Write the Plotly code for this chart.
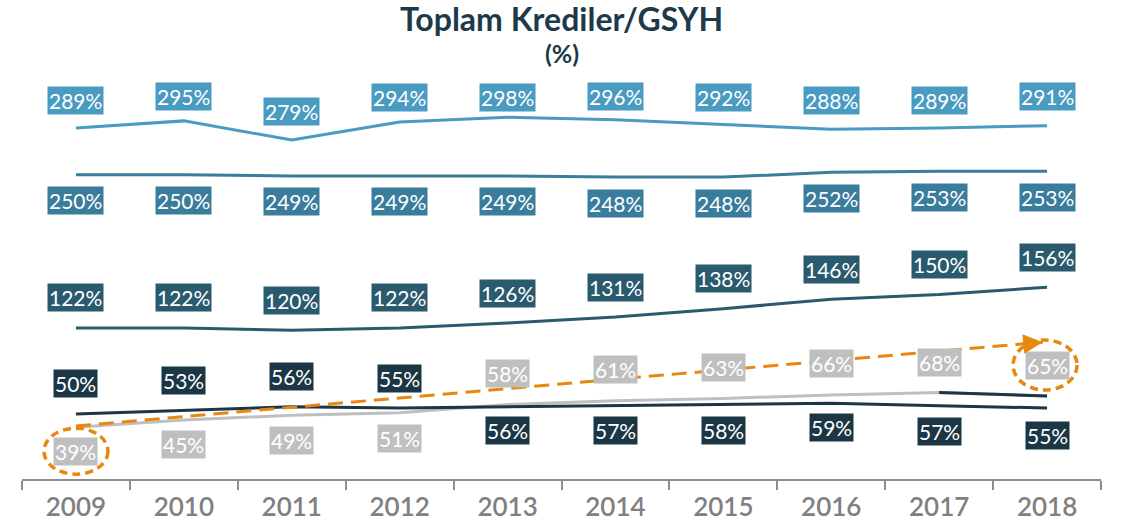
import plotly.graph_objects as go

years = ["2009", "2010", "2011", "2012", "2013", "2014", "2015", "2016", "2017", "2018"]
series_a = [289, 295, 279, 294, 298, 296, 292, 288, 289, 291]
series_b = [250, 250, 249, 249, 249, 248, 248, 252, 253, 253]
series_c = [122, 122, 120, 122, 126, 131, 138, 146, 150, 156]
series_d = [50, 53, 56, 55, 56, 57, 58, 59, 57, 55]
series_e = [39, 45, 49, 51, 58, 61, 63, 66, 68, 65]

# trend arrow endpoints (category index, value)
arrow_start = (0, 40)
arrow_end = (8.96, 110)

colors = {
    "a": "#4a9bc1",
    "b": "#3a7c9b",
    "c": "#2a5a6e",
    "d": "#1b3645",
    "e": "#bfbfbf",
}
orange = "#e8870e"

# label vertical offsets in pixels (positive = above the line)
label_shift = {
    "a": [28, 24, 29, 25, 20, 23, 27, 29, 28, 29],
    "b": [-26] * 10,
    "c": [30] * 10,
    "d": [31, 30, 30, 30, -24, -25, -26, -24, -26, -27],
    "e": [-24, -24, -25, -26, 31, 31, 31, 31, 30, 31],
}
data = {"a": series_a, "b": series_b, "c": series_c, "d": series_d, "e": series_e}
idx = list(range(len(years)))

fig = go.Figure()

for key in ["a", "b", "c", "e", "d"]:
    fig.add_trace(go.Scatter(x=idx, y=data[key], mode="lines",
                             line=dict(color=colors[key], width=3),
                             hoverinfo="skip", showlegend=False))
# last segment of gray series appears dark in the reference
fig.add_trace(go.Scatter(x=idx[-2:], y=series_e[-2:], mode="lines",
                         line=dict(color=colors["d"], width=3),
                         hoverinfo="skip", showlegend=False))

fig.add_trace(go.Scatter(x=[arrow_start[0], arrow_end[0]], y=[arrow_start[1], arrow_end[1]],
                         mode="lines", line=dict(color=orange, width=3, dash="15px,8px"),
                         hoverinfo="skip", showlegend=False))

annotations = []
for key, vals in data.items():
    for i, v in enumerate(vals):
        annotations.append(dict(
            x=i, y=v, xref="x", yref="y", text=f"{v}%", showarrow=False,
            yshift=label_shift[key][i],
            font=dict(family="Lato", size=21, color="white"),
            bgcolor=colors[key], borderpad=1,
        ))

# arrow head
annotations.append(dict(
    x=arrow_end[0], y=arrow_end[1], xref="x", yref="y", ax=-22, ay=2,
    axref="pixel", ayref="pixel", showarrow=True, arrowhead=2, arrowsize=1.3,
    arrowwidth=3, arrowcolor=orange, text="", standoff=0,
))

# titles
annotations.append(dict(x=0.5, y=1.152, xref="paper", yref="paper", showarrow=False,
                        text="<b>Toplam Krediler/GSYH</b>", yanchor="middle",
                        font=dict(family="Lato", size=32, color="#1d3a4b")))
annotations.append(dict(x=0.5, y=1.065, xref="paper", yref="paper", showarrow=False,
                        text="<b>(%)</b>", yanchor="middle",
                        font=dict(family="Lato", size=25, color="#1d3a4b")))

shapes = [
    dict(type="circle", xref="x", yref="y", xsizemode="pixel", ysizemode="pixel",
         xanchor=0, yanchor=series_e[0], x0=-32, x1=32, y0=-47, y1=-1,
         line=dict(color=orange, width=3.5, dash="8px,5px")),
    dict(type="circle", xref="x", yref="y", xsizemode="pixel", ysizemode="pixel",
         xanchor=9, yanchor=series_e[-1], x0=-34, x1=30, y0=6, y1=56,
         line=dict(color=orange, width=3.5, dash="8px,5px")),
]

fig.update_layout(
    width=1125, height=526,
    margin=dict(l=22, r=24, t=79, b=47),
    plot_bgcolor="white", paper_bgcolor="white",
    showlegend=False,
    annotations=annotations,
    shapes=shapes,
    xaxis=dict(tickmode="array", tickvals=idx, ticktext=years, automargin=False,
               range=[-0.5, 9.5], showgrid=False, zeroline=False,
               showline=True, linecolor="#8c8c8c", linewidth=2,
               ticks="", ticklen=9, ticklabelstandoff=4,
               tickfont=dict(family="Lato", size=26, color="#808080", weight=600)),
    yaxis=dict(range=[-4.3, 330], visible=False, showgrid=False, zeroline=False,
               automargin=False),
)

# tick marks at category boundaries (minor ticks)
fig.update_xaxes(minor=dict(tickmode="array", tickvals=[i - 0.5 for i in range(len(years) + 1)],
                            ticks="outside", ticklen=9, tickwidth=2, tickcolor="#8c8c8c",
                            showgrid=False))

fig.write_html("out.html", post_script="document.body.style.margin='0';",
               config={"displayModeBar": False})
